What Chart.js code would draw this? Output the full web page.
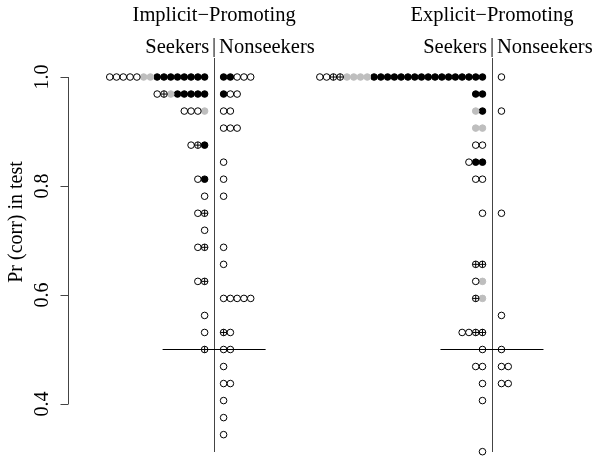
<!DOCTYPE html>
<html>
<head>
<meta charset="utf-8">
<script src="https://cdn.jsdelivr.net/npm/chart.js@4.4.1/dist/chart.umd.min.js"></script>
<style>
  body { margin: 0; background: #fff; }
  #wrap { width: 601px; height: 460px; }
</style>
</head>
<body>
<div id="wrap"><canvas id="dots" width="601" height="460"></canvas></div>
<script>
// test has 32 items, every row is a score out of 32
const nItems = 32;
const yTicks = [0.4, 0.6, 0.8, 1.0];
const chanceLevel = 0.5;
const panelTitles = ["Implicit\u2212Promoting", "Explicit\u2212Promoting"];
const groupLabels = ["Seekers", "Nonseekers"];
const yTitle = "Pr (corr) in test";

// [correct, filled, grey, crossed, open]
const implicitSeekers = [
  [32, 8, 2, 0, 5],
  [31, 5, 1, 1, 1],
  [30, 0, 1, 0, 3],
  [28, 1, 0, 1, 1],
  [26, 1, 0, 0, 1],
  [25, 0, 0, 0, 1],
  [24, 0, 0, 1, 1],
  [23, 0, 0, 0, 1],
  [22, 0, 0, 1, 1],
  [20, 0, 0, 1, 1],
  [18, 0, 0, 0, 1],
  [17, 0, 0, 0, 1],
  [16, 0, 0, 1, 0]
];
const implicitNonseekers = [
  [32, 2, 0, 0, 3],
  [31, 1, 0, 0, 2],
  [30, 0, 0, 0, 2],
  [29, 0, 0, 0, 3],
  [27, 0, 0, 0, 1],
  [26, 0, 0, 0, 1],
  [25, 0, 0, 0, 1],
  [22, 0, 0, 0, 1],
  [21, 0, 0, 0, 1],
  [19, 0, 0, 0, 5],
  [17, 0, 0, 1, 1],
  [16, 0, 0, 0, 2],
  [15, 0, 0, 0, 1],
  [14, 0, 0, 0, 2],
  [13, 0, 0, 0, 1],
  [12, 0, 0, 0, 1],
  [11, 0, 0, 0, 1]
];
const explicitSeekers = [
  [32, 17, 4, 2, 2],
  [31, 2, 0, 0, 0],
  [30, 1, 1, 0, 0],
  [29, 0, 2, 0, 0],
  [28, 0, 0, 0, 2],
  [27, 2, 0, 0, 1],
  [26, 0, 0, 0, 2],
  [24, 0, 0, 0, 1],
  [21, 0, 0, 2, 0],
  [20, 0, 1, 0, 1],
  [19, 0, 1, 1, 0],
  [17, 0, 0, 2, 2],
  [16, 0, 0, 0, 1],
  [15, 0, 0, 0, 2],
  [14, 0, 0, 0, 1],
  [13, 0, 0, 0, 1],
  [10, 0, 0, 0, 1]
];
const explicitNonseekers = [
  [32, 0, 0, 0, 1],
  [30, 0, 0, 0, 1],
  [24, 0, 0, 0, 1],
  [18, 0, 0, 0, 1],
  [16, 0, 0, 0, 1],
  [15, 0, 0, 0, 2],
  [14, 0, 0, 0, 2]
];

// x is measured in dot widths, panel centre lines at 0 and 41
const panelCentres = [0, 41];
const firstDot = 1.4;
const chanceHalfWidth = 7.6;
const xMin = -21.56, xMax = 56.35;
const yMin = 0.3119, yMax = 1.0349;

const kinds = ["filled", "grey", "crossed", "open"];

const stackRows = (rows, centre, side, out) => {
  rows.forEach(([score, ...counts]) => {
    let i = 0;
    counts.forEach((n, k) => {
      for (let j = 0; j < n; j++) {
        out[kinds[k]].push({ x: centre + side * (firstDot + i), y: score / nItems });
        i++;
      }
    });
  });
};

const pts = { filled: [], grey: [], crossed: [], open: [] };
stackRows(implicitSeekers, panelCentres[0], -1, pts);
stackRows(implicitNonseekers, panelCentres[0], 1, pts);
stackRows(explicitSeekers, panelCentres[1], -1, pts);
stackRows(explicitNonseekers, panelCentres[1], 1, pts);

const dotStyle = (data, bg, border, style) => ({
  data: data,
  pointStyle: style || "circle",
  pointRadius: 3.3,
  pointBorderWidth: 1,
  backgroundColor: bg,
  borderColor: border,
  clip: false
});

const datasets = [
  dotStyle(pts.open, "rgba(255,255,255,0)", "#000"),
  dotStyle(pts.crossed, "rgba(255,255,255,0)", "#000"),
  dotStyle(pts.crossed, "#000", "#000", "cross"),
  dotStyle(pts.grey, "#bebebe", "#bebebe"),
  dotStyle(pts.filled, "#000", "#000")
];

const serif = "'Liberation Serif', 'DejaVu Serif', serif";

const framePlugin = {
  id: "frame",
  beforeDatasetsDraw(chart) {
    const { ctx, chartArea, scales: { x, y } } = chart;
    ctx.save();
    // divider between seekers and nonseekers
    ctx.strokeStyle = "#444";
    ctx.lineWidth = 1;
    panelCentres.forEach((c) => {
      const px = Math.round(x.getPixelForValue(c)) + 0.5;
      ctx.beginPath();
      ctx.moveTo(px, chartArea.top);
      ctx.lineTo(px, chartArea.bottom);
      ctx.stroke();
    });
    // chance line
    ctx.strokeStyle = "#000";
    const py = Math.round(y.getPixelForValue(chanceLevel)) + 0.5;
    panelCentres.forEach((c) => {
      ctx.beginPath();
      ctx.moveTo(x.getPixelForValue(c - chanceHalfWidth), py);
      ctx.lineTo(x.getPixelForValue(c + chanceHalfWidth), py);
      ctx.stroke();
    });
    ctx.restore();
  },
  afterDraw(chart) {
    const { ctx, chartArea, scales: { x, y } } = chart;
    ctx.save();
    // y axis, R style: line only across the tick range
    const ax = chartArea.left + 0.5;
    ctx.strokeStyle = "#444";
    ctx.lineWidth = 1;
    ctx.beginPath();
    ctx.moveTo(ax, y.getPixelForValue(yTicks[0]));
    ctx.lineTo(ax, y.getPixelForValue(yTicks[yTicks.length - 1]));
    yTicks.forEach((t) => {
      const py = Math.round(y.getPixelForValue(t)) + 0.5;
      ctx.moveTo(ax, py);
      ctx.lineTo(ax - 8, py);
    });
    ctx.stroke();

    ctx.fillStyle = "#000";
    ctx.font = "20px " + serif;
    ctx.textAlign = "center";
    ctx.textBaseline = "middle";
    yTicks.forEach((t) => {
      ctx.save();
      ctx.translate(43, y.getPixelForValue(t));
      ctx.rotate(-Math.PI / 2);
      ctx.fillText(t.toFixed(1), 0, 0);
      ctx.restore();
    });
    ctx.save();
    ctx.translate(17, 222);
    ctx.rotate(-Math.PI / 2);
    ctx.fillText(yTitle, 0, 0);
    ctx.restore();

    // panel titles and group labels
    ctx.font = "20.5px " + serif;
    panelCentres.forEach((c, i) => {
      const px = x.getPixelForValue(c);
      ctx.textAlign = "center";
      ctx.fillText(panelTitles[i], px, 16);
      ctx.fillText("|", px, 47);
      ctx.textAlign = "right";
      ctx.fillText(groupLabels[0], px - 5, 48);
      ctx.textAlign = "left";
      ctx.fillText(groupLabels[1], px + 5, 48);
    });
    ctx.restore();
  }
};

new Chart(document.getElementById("dots"), {
  type: "scatter",
  data: { datasets: datasets },
  options: {
    responsive: false,
    animation: false,
    layout: { padding: { left: 68, top: 58, right: 0, bottom: 8 } },
    plugins: { legend: { display: false }, tooltip: { enabled: false } },
    scales: {
      x: { type: "linear", display: false, min: xMin, max: xMax },
      y: { type: "linear", display: false, min: yMin, max: yMax }
    }
  },
  plugins: [framePlugin]
});
</script>
</body>
</html>
